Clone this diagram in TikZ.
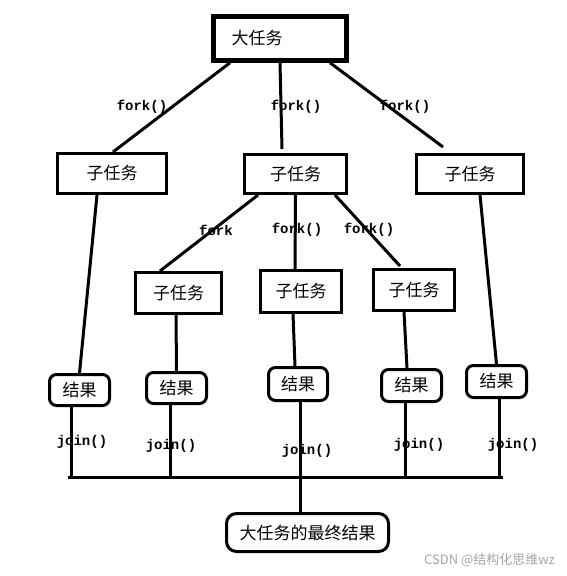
\documentclass[tikz,border=0pt]{standalone}
\usepackage{fontspec}
\setmainfont{Liberation Serif}
\newfontfamily\cjk{Noto Sans CJK SC}
\newfontfamily\codefont{Liberation Mono}
\usetikzlibrary{shapes,arrows,positioning,calc}
\definecolor{markgray}{RGB}{165,165,165}

\begin{document}
\begin{tikzpicture}[x=1pt, y=-1pt,
  task/.style={draw, rectangle, line width=3pt, inner sep=0pt, font=\cjk\fontsize{17}{19}\selectfont},
  result/.style={task, rounded corners=7pt},
  call/.style={inner sep=0pt, font=\codefont\bfseries\fontsize{14}{16}\selectfont},
  link/.style={line width=3pt}]
\useasboundingbox (0,0) rectangle (567,576);

% 大任务
\node[task, line width=4.5pt, minimum width=133pt, minimum height=44pt, text width=97pt, align=left] (big) at (280,38.5) {大任务};

% 第一层子任务
\node[task, minimum width=109pt, minimum height=40pt] (sub1) at (112,173.5) {子任务};
\node[task, minimum width=102pt, minimum height=39pt] (sub2) at (295.5,174) {子任务};
\node[task, minimum width=107pt, minimum height=39pt] (sub3) at (470,174) {子任务};

% 第二层子任务
\node[task, minimum width=86pt, minimum height=41pt] (leaf1) at (178.5,293) {子任务};
\node[task, minimum width=81pt, minimum height=42pt] (leaf2) at (301,291.5) {子任务};
\node[task, minimum width=81pt, minimum height=41pt] (leaf3) at (414,290) {子任务};

% 结果
\node[result, minimum width=60pt, minimum height=31pt] (res1) at (79.5,390) {结果};
\node[result, minimum width=60pt, minimum height=31pt] (res2) at (176.5,388) {结果};
\node[result, minimum width=59pt, minimum height=33pt] (res3) at (298,384) {结果};
\node[result, minimum width=60pt, minimum height=32pt] (res4) at (411.5,385.5) {结果};
\node[result, minimum width=60pt, minimum height=32pt] (res5) at (496.5,381.5) {结果};

% 最终结果
\node[result, rounded corners=10pt, minimum width=162pt, minimum height=38pt] (final) at (307.5,532.5) {大任务的最终结果};

% fork / join 标注
\node[call] (fork1) at (142,107) {fork()};
\node[call] (fork2) at (296,107) {fork()};
\node[call] (fork3) at (405,107) {fork()};
\node[call] (fork4) at (216,230) {fork};
\node[call] (fork5) at (297,230) {fork()};
\node[call] (fork6) at (369,230) {fork()};
\node[call] (join1) at (82,442) {join()};
\node[call] (join2) at (171,446) {join()};
\node[call] (join3) at (307,451) {join()};
\node[call] (join4) at (419,445) {join()};
\node[call] (join5) at (513,445) {join()};

% 连接
\draw[link] ([xshift=-50pt]big.south) -- ([xshift=1pt]sub1.north);
\draw[link] (big.south) -- ([xshift=-13.5pt,yshift=4pt]sub2.north);
\draw[link] ([xshift=50pt]big.south) -- ([xshift=-27pt,yshift=6pt]sub3.north);
\draw[link] ([xshift=-15pt]sub1.south) -- (res1.north);
\draw[link] ([xshift=-37.5pt]sub2.south) -- ([xshift=-18.5pt]leaf1.north);
\draw[link] (sub2.south) -- ([xshift=-6pt]leaf2.north);
\draw[link] ([xshift=39.5pt]sub2.south) -- ([xshift=-14pt,yshift=2pt]leaf3.north);
\draw[link] ([xshift=10pt]sub3.south) -- (res5.north);
\draw[link] ([xshift=-2.5pt]leaf1.south) -- (res2.north);
\draw[link] ([xshift=-8pt]leaf2.south) -- ([xshift=-3pt]res3.north);
\draw[link] ([xshift=-10pt]leaf3.south) -- ([xshift=-4.5pt]res4.north);

% 汇总
\coordinate (barL) at (68,477);
\coordinate (barR) at (503,477);
\draw[link] (barL) -- (barR);
\draw[link] ([xshift=-8.5pt]res1.south) -- ([xshift=-8.5pt]res1.south |- barL);
\draw[link] ([xshift=-6.5pt]res2.south) -- ([xshift=-6.5pt]res2.south |- barL);
\draw[link] ([xshift=2pt]res3.south) -- ([xshift=-7.5pt]final.north);
\draw[link] ([xshift=-6.5pt]res4.south) -- ([xshift=-6.5pt]res4.south |- barL);
\draw[link] ([xshift=2.5pt]res5.south) -- ([xshift=2.5pt]res5.south |- barL);

% 水印
\node[anchor=east, inner sep=0pt, text=markgray, font=\cjk\fontsize{13}{15}\selectfont] (mark) at (555,560) {CSDN @结构化思维wz};
\end{tikzpicture}
\end{document}
